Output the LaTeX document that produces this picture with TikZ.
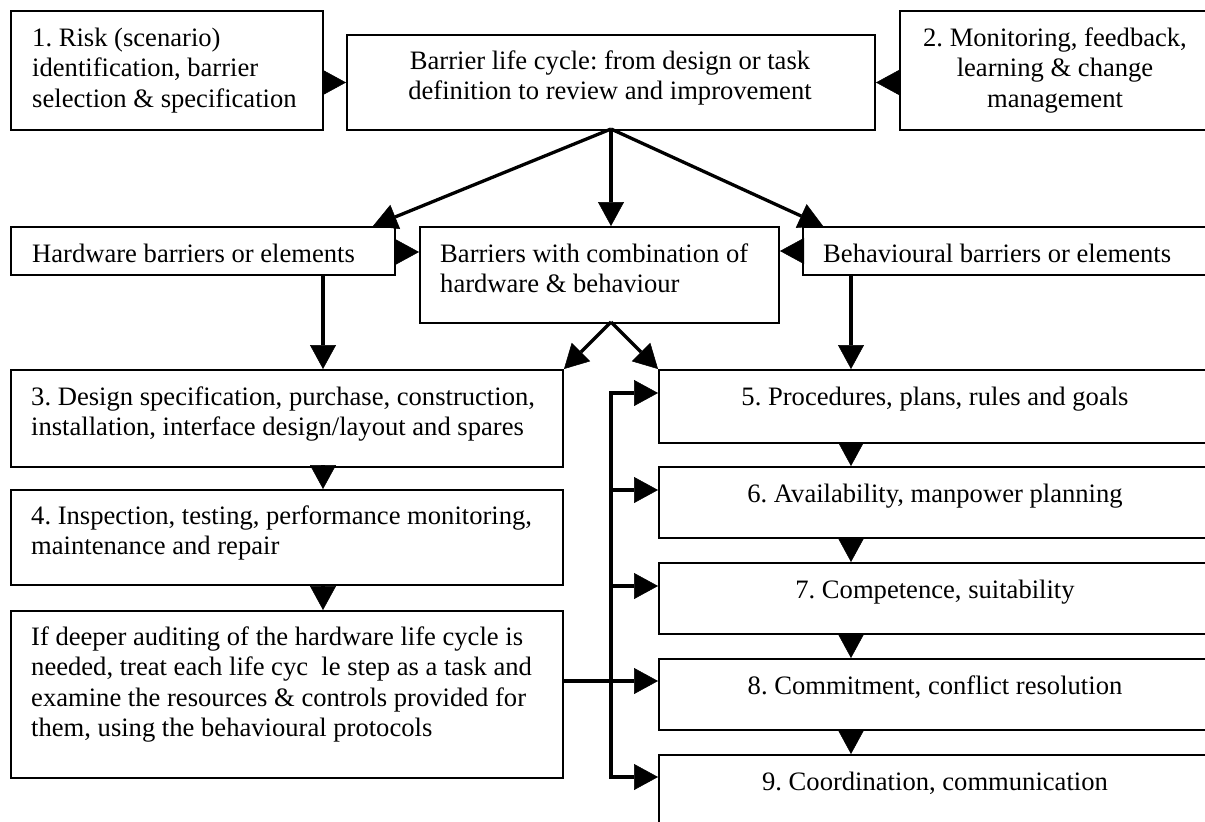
\documentclass[tikz,border=0pt]{standalone}
\usepackage{fontspec}
\setmainfont{Liberation Serif}
\usetikzlibrary{arrows.meta,calc}
\frenchspacing
\newcommand\firstln{\rule{0pt}{22pt}}
\tikzset{
  box/.style={draw, line width=2pt, inner sep=0pt, anchor=north west, rectangle},
  txtl/.style={anchor=north west, inner sep=0pt, align=left, font=\fontsize{26.6}{30.5}\selectfont\frenchspacing},
  txtc/.style={anchor=north, inner sep=0pt, align=center, font=\fontsize{26.6}{30.5}\selectfont\frenchspacing},
  arr/.style={line width=3.3pt, ->},
  busline/.style={line width=3.3pt, <->},
}
\begin{document}
\begin{tikzpicture}[x=1pt, y=-1pt, >={Triangle[length=24pt,width=26pt,line width=0.5pt]}]
\useasboundingbox (0,0) rectangle (1205,822);
\fill[white] (0,0) rectangle (1205,822);
\clip (0,0) rectangle (1205,822);

% boxes
\node[box, minimum width=312pt, minimum height=119pt] (b1) at (10,10) {};
\node[box, minimum width=528pt, minimum height=95pt] (top) at (346,34) {};
\node[box, minimum width=312pt, minimum height=119pt] (b2) at (899,10) {};
\node[box, minimum width=384pt, minimum height=48pt] (hw) at (10,226) {};
\node[box, minimum width=359pt, minimum height=96pt] (comb) at (419,226) {};
\node[box, minimum width=409pt, minimum height=48pt] (bh) at (802,226) {};
\node[box, minimum width=552pt, minimum height=97pt] (d3) at (10,369) {};
\node[box, minimum width=552pt, minimum height=95pt] (d4) at (10,489) {};
\node[box, minimum width=552pt, minimum height=167pt] (deep) at (10,610) {};
\node[box, minimum width=554pt, minimum height=73pt] (r5) at (658,369) {};
\node[box, minimum width=554pt, minimum height=71pt] (r6) at (658,466) {};
\node[box, minimum width=554pt, minimum height=71pt] (r7) at (658,562) {};
\node[box, minimum width=554pt, minimum height=71pt] (r8) at (658,658) {};
\node[box, minimum width=554pt, minimum height=96pt] (r9) at (658,754) {};

% texts
\node[txtl] (t1) at (32,24) {\firstln 1. Risk (scenario)\\identification, barrier\\selection \& specification};
\node[txtc] (ttop) at (610,47) {\firstln Barrier life cycle: from design or task\\definition to review and improvement};
\node[txtc] (t2) at (1055,24) {\firstln 2. Monitoring, feedback,\\learning \& change\\management};
\node[txtl] (thw) at (32,240) {\firstln Hardware barriers or elements};
\node[txtl] (tcomb) at (440,240) {\firstln Barriers with combination of\\hardware \& behaviour};
\node[txtl] (tbh) at (823,240) {\firstln Behavioural barriers or elements};
\node[txtl] (t3) at (31,383) {\firstln 3. Design specification, purchase, construction,\\installation, interface design/layout and spares};
\node[txtl] (t4) at (31,502) {\firstln 4. Inspection, testing, performance monitoring,\\maintenance and repair};
\node[txtl] (tdeep) at (31,623) {\firstln If deeper auditing of the hardware life cycle is\\needed, treat each life cyc\ \ le step as a task and\\examine the resources \& controls provided for\\them, using the behavioural protocols};
\node[txtc] (t5) at (935,383) {\firstln 5. Procedures, plans, rules and goals};
\node[txtc] (t6) at (935,480) {\firstln 6. Availability, manpower planning};
\node[txtc] (t7) at (935,576) {\firstln 7. Competence, suitability};
\node[txtc] (t8) at (935,672) {\firstln 8. Commitment, conflict resolution};
\node[txtc] (t9) at (935,768) {\firstln 9. Coordination, communication};

% helper coordinates
\coordinate (hwin) at (373,226);
\coordinate (bhin) at (823,226);
\coordinate (yhc) at (0,252);
\coordinate (ybc) at (0,251);
\coordinate (xl) at (323,0);
\coordinate (xr) at (851,0);
\coordinate (ctop) at (611,129);
\coordinate (cbot) at (611,322);
\coordinate (busT) at (611,393);
\coordinate (busB) at (611,777);
\coordinate (a6) at (611,490);
\coordinate (a7) at (611,586);
\coordinate (a8) at (611,681);

% connectors
\draw[arr] (b1.east |- top.west) -- (top.west);
\draw[arr] (b2.west |- top.east) -- (top.east);
\draw[arr] (ctop) -- (hwin);
\draw[arr] (ctop) -- (ctop |- comb.north);
\draw[arr] (ctop) -- (bhin);
\draw[arr] (hw.east |- yhc) -- (comb.west |- yhc);
\draw[arr] (bh.west |- ybc) -- (comb.east |- ybc);
\draw[arr] (hw.south -| xl) -- (d3.north -| xl);
\draw[arr] (bh.south -| xr) -- (r5.north -| xr);
\draw[arr] (cbot) -- (d3.north east);
\draw[arr] (cbot) -- (r5.north west);
\draw[arr] (d3.south -| xl) -- (d4.north -| xl);
\draw[arr] (d4.south -| xl) -- (deep.north -| xl);
\draw[arr] (r5.south -| xr) -- (r6.north -| xr);
\draw[arr] (r6.south -| xr) -- (r7.north -| xr);
\draw[arr] (r7.south -| xr) -- (r8.north -| xr);
\draw[arr] (r8.south -| xr) -- (r9.north -| xr);
\draw[busline] (busT -| r5.west) -- (busT) -- (busB) -- (busB -| r9.west);
\draw[arr] (a6) -- (a6 -| r6.west);
\draw[arr] (a7) -- (a7 -| r7.west);
\draw[arr] (deep.east |- a8) -- (a8 -| r8.west);
\end{tikzpicture}
\end{document}
